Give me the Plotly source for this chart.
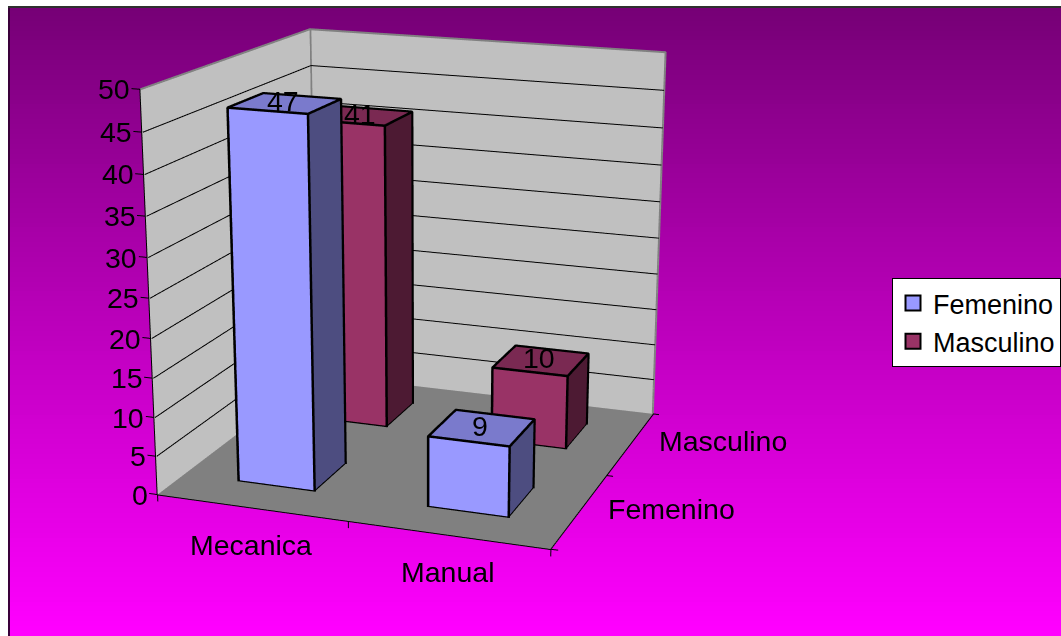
import numpy as np
import plotly.graph_objects as go

categories = ["Mecanica", "Manual"]
series_names = ["Femenino", "Masculino"]
femenino = [47, 9]
masculino = [41, 10]
z_ticks = [0, 5, 10, 15, 20, 25, 30, 35, 40, 45, 50]
series_values = [femenino, masculino]

W, H = 1061, 636
FONT = "Liberation Sans"
FS = 28.5
PAD = 1.2  # axis ranges are padded so the ticks are not clipped
FOCAL = 6.234
cam = [1.672, -4.517, 1.335, 1.867, -0.296, -0.016]
ay, az = 0.975, 0.997

e = np.array(cam[:3]); yaw, pit, roll = cam[3:]
f = np.array([np.cos(pit)*np.cos(yaw), np.cos(pit)*np.sin(yaw), np.sin(pit)])
r = np.cross(f, [0, 0, 1]); r /= np.linalg.norm(r)
u0 = np.cross(r, f); u = u0*np.cos(roll) + r*np.sin(roll)
c = e + f*np.linalg.norm(e)

series_style = [
    dict(front="#9999FF", top="#7A7ACC", side="#4D4D80"),
    dict(front="#993366", top="#7A2952", side="#4D1A33"),
]
LIGHT = dict(ambient=1, diffuse=0, specular=0, fresnel=0, roughness=1)
nc, ns = len(categories), len(series_names)
ztop = z_ticks[-1]
TXT = dict(family=FONT, size=FS, color="#000000")

def quad(name, X, Y, Z, color):
    return go.Mesh3d(x=X, y=Y, z=Z, i=[0, 0], j=[1, 2], k=[2, 3], color=color, flatshading=True,
                     lighting=LIGHT, hoverinfo="skip", showlegend=False, name=name)

def bar(name, x0, x1, y0, y1, h, st):
    X = [x0, x1, x1, x0, x0, x1, x1, x0]; Y = [y0, y0, y1, y1, y0, y0, y1, y1]; Z = [0, 0, 0, 0, h, h, h, h]
    i = [0, 0, 1, 1, 4, 4, 0, 0, 3, 3, 0, 0]; j = [1, 2, 5, 6, 5, 6, 3, 7, 2, 6, 1, 5]; k = [2, 3, 6, 2, 6, 7, 7, 4, 6, 7, 5, 4]
    cols = [st["side"]]*4 + [st["top"]]*2 + [st["side"]]*4 + [st["front"]]*2
    return go.Mesh3d(x=X, y=Y, z=Z, i=i, j=j, k=k, facecolor=cols, flatshading=True,
                     lighting=LIGHT, hoverinfo="skip", showlegend=False, name=name)

def segs(name, lines, color, width):
    xs, ys, zs = [], [], []
    for l in lines:
        for p in l:
            xs.append(p[0]); ys.append(p[1]); zs.append(p[2])
        xs.append(None); ys.append(None); zs.append(None)
    return go.Scatter3d(x=xs, y=ys, z=zs, mode="lines", line=dict(color=color, width=width),
                        hoverinfo="skip", showlegend=False, name=name)

fig = go.Figure()
# gradient background
rows = list(range(128))
fig.add_trace(go.Heatmap(x=[0, 1], y=rows, z=[[v, v] for v in rows], showscale=False, hoverinfo="skip",
                         colorscale=[[0, "#FF00FF"], [1, "#760076"]]))
# walls and floor
fig.add_trace(quad("floor", [0, nc, nc, 0], [0, 0, ns, ns], [0, 0, 0, 0], "#808080"))
fig.add_trace(quad("left wall", [0, 0, 0, 0], [0, ns, ns, 0], [0, 0, ztop, ztop], "#C0C0C0"))
fig.add_trace(quad("back wall", [0, nc, nc, 0], [ns, ns, ns, ns], [0, 0, ztop, ztop], "#C0C0C0"))
eps = 0.004
grid = []
for t in z_ticks[1:-1]:
    grid.append([(eps, 0, t), (eps, ns-eps, t), (nc, ns-eps, t)])
fig.add_trace(segs("grid", grid, "#000000", 2))
fig.add_trace(segs("wall edge", [[(0, 0, ztop), (0, ns, ztop), (nc, ns, ztop), (nc, ns, 0)],
                                 [(eps, ns-eps, 0), (eps, ns-eps, ztop)]], "#808080", 4))
axes = [[(0, -eps, 0), (nc, -eps, 0), (nc+eps, ns, 0)], [(0, -eps, 0), (0, -eps, ztop)]]
for t in z_ticks:
    axes.append([(0, 0, t), (-0.045, 0, t)])
for i in range(nc+1):
    axes.append([(i, 0, 0), (i, 0, -0.9)])
for j in range(ns+1):
    axes.append([(nc, j, 0), (nc+0.035, j, 0)])
fig.add_trace(segs("axes", axes, "#000000", 2))

# bars, back series first
gap = 0.3
annotations = []
for s in (1, 0):
    for ci in range(nc):
        v = series_values[s][ci]
        x0, x1, y0, y1 = ci+gap, ci+1-gap, s+gap, s+1-gap
        fig.add_trace(bar(f"{series_names[s]} {categories[ci]}", x0, x1, y0, y1, v, series_style[s]))
        d = 0.004
        X0, X1, Y0, Y1 = x0-d, x1+d, y0-d, y1+d; T = v+0.1
        fig.add_trace(segs("edge", [[(X0, Y0, 0), (X1, Y0, 0), (X1, Y1, 0), (X1, Y1, T), (X0, Y1, T), (X0, Y0, T), (X0, Y0, 0)],
                                    [(X0, Y0, T), (X1, Y0, T), (X1, Y1, T)], [(X1, Y0, 0), (X1, Y0, T)]], "#000000", 5))
        annotations.append(dict(x=ci+.5, y=s+.5, z=v, text=str(v), showarrow=False, xshift=-2, yshift=3, font=TXT))

for t in z_ticks:
    annotations.append(dict(x=0, y=0, z=t, text=str(t), showarrow=False, xanchor="right", xshift=-8, font=TXT))
for i, nm in enumerate(categories):
    annotations.append(dict(x=i+.5, y=0, z=0, text=nm, showarrow=False, xshift=-1, yshift=-37, font=TXT))
for j, nm in enumerate(series_names):
    annotations.append(dict(x=nc, y=j+.5, z=0, text=nm, showarrow=False, xanchor="left", xshift=26, yshift=2, font=TXT))

# legend entries
for nm, st in zip(series_names, series_style):
    fig.add_trace(go.Scatter(x=[None], y=[None], mode="markers", name=nm,
                             marker=dict(symbol="square", size=15, color=st["front"], line=dict(color="#000000", width=2))))

fig.update_layout(
    width=W, height=H, margin=dict(l=0, r=0, t=0, b=0), paper_bgcolor="#FFFFFF",
    xaxis=dict(visible=False, domain=[8/W, 1], range=[0, 1]),
    yaxis=dict(visible=False, domain=[0, 1-6/H], range=[-.5, 127.5]),
    showlegend=True,
    legend=dict(x=892/W, y=1-278/H, xanchor="left", yanchor="top", bgcolor="#FFFFFF", bordercolor="#000000",
                borderwidth=1, font=dict(family=FONT, size=27, color="#000000"), itemclick=False, itemdoubleclick=False,
                tracegroupgap=0),
    shapes=[dict(type="line", xref="paper", yref="paper", x0=9/W, x1=9/W, y0=0, y1=1-6/H, line=dict(color="#3A003A", width=2)),
            dict(type="line", xref="paper", yref="paper", x0=8/W, x1=1, y0=1-7/H, y1=1-7/H, line=dict(color="#303030", width=2))],
    scene=dict(
        domain=dict(x=[0, 1], y=[0, 1]), aspectmode="manual",
        aspectratio=dict(x=PAD, y=ay*PAD, z=az*PAD), bgcolor="rgba(0,0,0,0)", dragmode=False,
        camera=dict(eye=dict(x=e[0], y=e[1], z=e[2]), center=dict(x=c[0], y=c[1], z=c[2]), up=dict(x=u[0], y=u[1], z=u[2])),
        xaxis=dict(range=[nc/2-PAD*nc/2, nc/2+PAD*nc/2], visible=False),
        yaxis=dict(range=[ns/2-PAD*ns/2, ns/2+PAD*ns/2], visible=False),
        zaxis=dict(range=[ztop/2-PAD*ztop/2, ztop/2+PAD*ztop/2], visible=False),
        annotations=annotations),
)
post = """
document.body.style.margin='0';
var gd=document.getElementById('{plot_id}');
function setF(){var s=gd._fullLayout&&gd._fullLayout.scene._scene; if(s&&s.glplot){s.glplot.fovy=2*Math.atan(1/%s); s.glplot.redraw();}}
setF(); setTimeout(setF,50); setTimeout(setF,300);
""" % FOCAL
fig.write_html("out.html", config={"displayModeBar": False}, post_script=post)
